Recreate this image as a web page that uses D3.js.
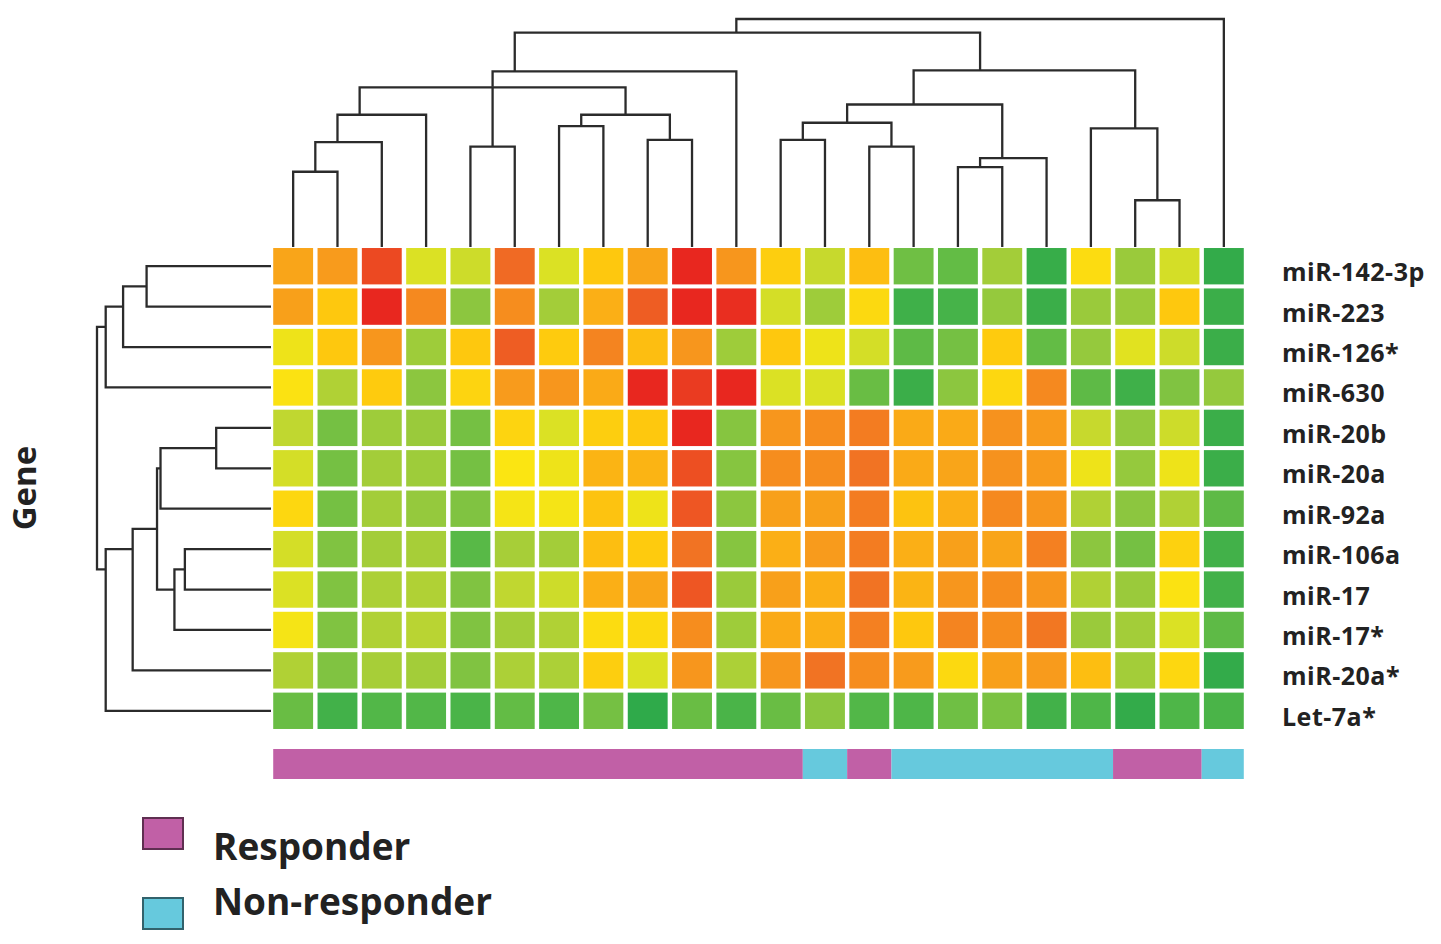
<!DOCTYPE html>
<html lang="en">
<head>
<meta charset="UTF-8">
<title>miRNA heatmap</title>
<script src="https://d3js.org/d3.v7.min.js"></script>
<style>
  body { margin: 0; background: #fff; }
  svg { display: block; }
  .lbl { font-family: "Open Sans", sans-serif; font-weight: 700; fill: #222; }
</style>
</head>
<body>
<svg id="chart" width="1441" height="944"></svg>
<script>
// genes (rows, top to bottom)
const genes = ["miR-142-3p", "miR-223", "miR-126*", "miR-630", "miR-20b", "miR-20a",
               "miR-92a", "miR-106a", "miR-17", "miR-17*", "miR-20a*", "Let-7a*"];

// response group of each sample (columns, left to right)
const response = ["R","R","R","R","R","R","R","R","R","R","R","R",
                  "N","R","N","N","N","N","N","R","R","N"];

const groupNames = { R: "Responder", N: "Non-responder" };

// relative expression, -4 (green) .. +4 (red), one row per gene
const expression = [
  [ 1.7, 1.9, 3.5,-0.5,-0.7, 3.0,-0.5, 1.0, 1.7, 4.0, 2.0, 0.8,-0.8, 1.2,-2.5,-2.7,-1.5,-3.7, 0.3,-1.7,-0.6,-3.8],
  [ 1.8, 1.0, 4.0, 2.3,-2.0, 2.2,-1.5, 1.5, 3.2, 4.0, 3.9,-0.6,-1.6, 0.4,-3.5,-3.3,-1.8,-3.6,-1.7,-1.7, 1.0,-3.6],
  [-0.2, 1.0, 2.0,-1.6, 1.0, 3.2, 0.9, 2.4, 1.2, 2.0,-1.6, 1.0,-0.2,-0.6,-2.8,-2.4, 0.9,-2.7,-1.8,-0.4,-0.7,-3.6],
  [ 0.1,-1.2, 0.9,-2.0, 0.6, 1.9, 2.0, 1.6, 4.0, 3.7, 4.0,-0.5,-0.5,-2.6,-3.6,-2.0, 0.5, 2.3,-2.8,-3.5,-2.2,-1.8],
  [-0.9,-2.4,-1.6,-1.7,-2.4, 0.6,-0.5, 0.8, 1.0, 4.0,-2.1, 2.0, 2.2, 2.6, 1.6, 1.6, 2.1, 1.9,-0.8,-1.8,-0.7,-3.6],
  [-0.6,-2.4,-1.5,-1.6,-2.4, 0.0,-0.2, 1.4, 1.4, 3.4,-2.1, 2.2, 2.2, 2.8, 1.6, 1.7, 2.1, 1.9,-0.2,-1.8,-0.2,-3.6],
  [ 0.5,-2.4,-1.5,-1.8,-2.2,-0.1,-0.1, 1.1,-0.2, 3.3,-2.0, 1.8, 1.8, 2.6, 1.1, 1.5, 2.3, 2.0,-1.2,-2.0,-1.2,-2.8],
  [-0.6,-2.2,-1.5,-1.4,-2.9,-1.4,-1.5, 1.2, 0.9, 2.8,-2.1, 1.5, 1.9, 2.6, 1.5, 1.8, 1.7, 2.5,-2.0,-2.4, 0.7,-3.4],
  [-0.5,-2.2,-1.3,-1.2,-2.2,-0.9,-0.7, 1.5, 1.7, 3.3,-1.7, 1.8, 1.5, 2.8, 1.4, 2.0, 2.2, 2.0,-1.2,-1.7, 0.1,-3.4],
  [-0.1,-2.2,-1.2,-1.0,-2.2,-1.5,-1.2, 0.3, 0.4, 2.2,-1.6, 1.6, 1.5, 2.5, 1.0, 2.4, 2.2, 2.7,-1.7,-1.5,-0.5,-2.8],
  [-1.2,-2.2,-1.4,-1.5,-2.2,-1.3,-1.3, 0.8,-0.5, 2.0,-1.3, 2.0, 2.8, 2.2, 1.9, 0.4, 1.8, 1.9, 1.2,-1.5, 0.5,-3.8],
  [-2.6,-3.4,-3.0,-3.0,-3.2,-2.7,-3.1,-2.4,-3.9,-2.6,-3.2,-2.6,-2.0,-3.0,-3.1,-2.5,-2.3,-3.4,-3.1,-3.8,-3.1,-3.2]
];

// sample clustering: [child a, child b, height]; leaves 0..21, new nodes numbered from 22
const sampleMerges = [
  [0, 1, 3.3], [22, 2, 4.6], [23, 3, 5.8], [4, 5, 4.4], [6, 7, 5.3], [8, 9, 4.7],
  [26, 27, 5.8], [24, 28, 7.0], [25, 29, 7.05], [30, 10, 7.7],
  [11, 12, 4.7], [13, 14, 4.4], [32, 33, 5.45], [15, 16, 3.5], [35, 17, 3.9],
  [34, 36, 6.25], [19, 20, 2.05], [18, 38, 5.2], [37, 39, 7.75], [31, 40, 9.4], [41, 21, 10]
];

// gene clustering: leaves 0..11, new nodes numbered from 12
const geneMerges = [
  [0, 1, 7.15], [12, 2, 8.5], [13, 3, 9.5], [4, 5, 3.15], [15, 6, 6.35], [7, 8, 4.95],
  [17, 9, 5.55], [16, 18, 6.55], [19, 10, 7.95], [20, 11, 9.5], [14, 21, 10]
];

const svg = d3.select("#chart");

const x = d3.scaleBand().domain(d3.range(response.length)).range([271, 1246])
  .paddingInner(0.1).paddingOuter(0.05);
const y = d3.scaleBand().domain(d3.range(genes.length)).range([246, 731])
  .paddingInner(0.1).paddingOuter(0.05);

const color = d3.scaleLinear()
  .domain([-4, -3, -2, -1, -0.5, 0, 1, 2, 3, 4])
  .range(["#2ba84a", "#52b748", "#8cc63f", "#b9d433", "#dbe124", "#fbe512",
          "#fec80e", "#f7961d", "#f06a24", "#e8271f"])
  .clamp(true);

// heatmap cells
const cells = [];
expression.forEach((row, r) => row.forEach((v, c) => cells.push({ r, c, v })));
svg.append("g").selectAll("rect").data(cells).join("rect")
  .attr("x", d => x(d.c)).attr("y", d => y(d.r))
  .attr("width", x.bandwidth()).attr("height", y.bandwidth())
  .attr("fill", d => color(d.v));

// gene labels
svg.append("g").selectAll("text").data(genes).join("text")
  .attr("class", "lbl")
  .attr("x", 1282)
  .attr("y", (d, i) => y(i) + y.bandwidth() / 2 + 15)
  .attr("font-size", 25)
  .attr("letter-spacing", 0.5)
  .text(d => d);

// "Gene" axis title
svg.append("text").attr("class", "lbl")
  .attr("transform", "translate(36,488) rotate(-90)")
  .attr("text-anchor", "middle")
  .attr("font-size", 33)
  .text("Gene");

// build dendrogram nodes: position = mean of leaf positions
function buildTree(nLeaves, merges, leafPos) {
  const nodes = d3.range(nLeaves).map(i => ({ leaves: [i], h: 0 }));
  merges.forEach(m => {
    nodes.push({ leaves: nodes[m[0]].leaves.concat(nodes[m[1]].leaves), h: m[2], a: m[0], b: m[1] });
  });
  nodes.forEach(n => { n.p = d3.mean(n.leaves, leafPos); });
  return nodes;
}

const lineStyle = sel => sel.attr("fill", "none").attr("stroke", "#2b2b2b")
  .attr("stroke-width", 2.3).attr("stroke-linejoin", "miter");

// top (sample) dendrogram
const topH = d3.scaleLinear().domain([0, 10]).range([247, 19]);
const topNodes = buildTree(response.length, sampleMerges, i => x(i) + x.bandwidth() / 2);
svg.append("g").selectAll("path")
  .data(topNodes.filter(n => n.a !== undefined)).join("path")
  .attr("d", n => {
    const A = topNodes[n.a], B = topNodes[n.b];
    return `M${A.p},${topH(A.h)}V${topH(n.h)}H${B.p}V${topH(B.h)}`;
  })
  .call(lineStyle);

// left (gene) dendrogram
const leftH = d3.scaleLinear().domain([0, 10]).range([271, 97]);
const leftNodes = buildTree(genes.length, geneMerges, i => y(i) + y.bandwidth() / 2);
svg.append("g").selectAll("path")
  .data(leftNodes.filter(n => n.a !== undefined)).join("path")
  .attr("d", n => {
    const A = leftNodes[n.a], B = leftNodes[n.b];
    return `M${leftH(A.h)},${A.p}H${leftH(n.h)}V${B.p}H${leftH(B.h)}`;
  })
  .call(lineStyle);

// response bar under the heatmap: one rect per run of equal groups
const groupColor = d3.scaleOrdinal().domain(["R", "N"]).range(["#c160a6", "#66c9dd"]);
const halfGap = (x.step() - x.bandwidth()) / 2;
const runs = [];
response.forEach((g, i) => {
  const last = runs[runs.length - 1];
  if (last && last.g === g) last.end = i; else runs.push({ g, start: i, end: i });
});
const n = response.length;
svg.append("g").selectAll("rect").data(runs).join("rect")
  .attr("x", d => x(d.start) - (d.start === 0 ? 0 : halfGap))
  .attr("width", d => (x(d.end) + x.bandwidth() + (d.end === n - 1 ? 0 : halfGap))
                      - (x(d.start) - (d.start === 0 ? 0 : halfGap)))
  .attr("y", 749).attr("height", 30)
  .attr("fill", d => groupColor(d.g));

// legend
const legend = svg.append("g").selectAll("g").data(["R", "N"]).join("g")
  .attr("transform", (d, i) => `translate(143,${818 + i * 80})`);
legend.append("rect")
  .attr("width", 40).attr("height", 31)
  .attr("fill", d => groupColor(d))
  .attr("stroke", d => d3.color(groupColor(d)).darker(2))
  .attr("stroke-width", 2);
legend.append("text").attr("class", "lbl")
  .attr("x", 70).attr("y", (d, i) => i === 0 ? 42 : 17)
  .attr("font-size", 37)
  .text(d => groupNames[d]);
</script>
</body>
</html>
